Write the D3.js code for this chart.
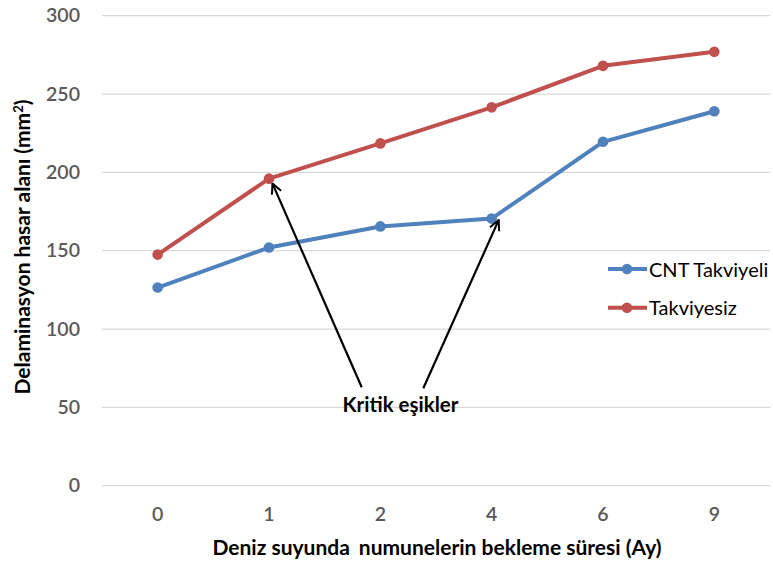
<!DOCTYPE html>
<html>
<head>
<meta charset="utf-8">
<script src="https://cdn.jsdelivr.net/npm/d3@7"></script>
<style>
  html, body { margin: 0; padding: 0; background: #fff; }
  svg { display: block; font-family: Lato, "Open Sans", sans-serif; }
</style>
</head>
<body>
<svg id="chart" width="773" height="563"></svg>
<script>
// Waiting time in sea water (months) and delamination damage area (mm²)
const months = ["0", "1", "2", "4", "6", "9"];
const cntReinforced = [126.5, 152, 165.5, 170.5, 219.5, 239];
const unreinforced = [147.5, 196, 218.5, 241.5, 268, 277];
const yTicks = [0, 50, 100, 150, 200, 250, 300];
const seriesNames = ["CNT Takviyeli", "Takviyesiz"];
const seriesColors = ["#4F81BD", "#C0504D"];

const svg = d3.select("#chart");
const plot = { left: 102, right: 770, top: 15.7, bottom: 485.7 };

const x = d3.scaleBand().domain(months).range([plot.left, plot.right]);
const y = d3.scaleLinear().domain([0, 300]).range([plot.bottom, plot.top]);
const cx = d => x(d) + x.bandwidth() / 2;

// Horizontal gridlines
svg.append("g")
  .selectAll("line")
  .data(yTicks)
  .join("line")
  .attr("x1", plot.left).attr("x2", plot.right)
  .attr("y1", d => y(d)).attr("y2", d => y(d))
  .attr("stroke", "#D9D9D9").attr("stroke-width", 1.3);

// Y axis tick labels
const yAxis = svg.append("g")
  .attr("transform", `translate(${plot.left - 22},0)`)
  .call(d3.axisLeft(y).tickValues(yTicks).tickSize(0).tickPadding(0));
yAxis.select(".domain").remove();
yAxis.selectAll("text")
  .attr("fill", "#595959").attr("font-size", 19.5).attr("font-weight", 600)
  .attr("font-family", "Lato, sans-serif");

// X axis tick labels
const xAxis = svg.append("g")
  .attr("transform", `translate(0,${plot.bottom})`)
  .call(d3.axisBottom(x).tickSize(0).tickPadding(21));
xAxis.select(".domain").remove();
xAxis.selectAll("text")
  .attr("fill", "#595959").attr("font-size", 19.5).attr("font-weight", 600)
  .attr("font-family", "Lato, sans-serif");

// Axis titles
const xTitle = svg.append("text")
  .attr("x", 437).attr("y", 555)
  .attr("text-anchor", "middle")
  .attr("font-size", 21).attr("font-weight", 700).attr("fill", "#000");
xTitle.append("tspan").text("Deniz suyunda");
xTitle.append("tspan").attr("dx", 9).text("numunelerin bekleme süresi (Ay)");

svg.append("text")
  .attr("transform", "translate(30,247) rotate(-90)")
  .attr("text-anchor", "middle")
  .attr("font-size", 21).attr("font-weight", 700).attr("fill", "#000")
  .html('Delaminasyon hasar alanı (mm<tspan dy="-7" font-size="13">2</tspan><tspan dy="7">)</tspan>');

// Series lines and markers
const series = [cntReinforced, unreinforced];
const line = d3.line().x((d, i) => cx(months[i])).y(d => y(d));

series.forEach((vals, s) => {
  svg.append("path")
    .datum(vals)
    .attr("d", line)
    .attr("fill", "none")
    .attr("stroke", seriesColors[s])
    .attr("stroke-width", 4)
    .attr("stroke-linejoin", "round")
    .attr("stroke-linecap", "round");
  svg.append("g")
    .selectAll("circle")
    .data(vals)
    .join("circle")
    .attr("cx", (d, i) => cx(months[i]))
    .attr("cy", d => y(d))
    .attr("r", 5.3)
    .attr("fill", seriesColors[s]);
});

// Legend
const legend = svg.append("g");
[269, 307.7].forEach((ly, s) => {
  legend.append("line")
    .attr("x1", 608).attr("x2", 647).attr("y1", ly).attr("y2", ly)
    .attr("stroke", seriesColors[s]).attr("stroke-width", 4);
  legend.append("circle")
    .attr("cx", 627).attr("cy", ly).attr("r", 5.3).attr("fill", seriesColors[s]);
  legend.append("text")
    .attr("x", 649).attr("y", ly + 7.5)
    .attr("font-size", 20).attr("fill", "#000")
    .text(seriesNames[s]);
});

// Annotation with arrows pointing at the critical thresholds
svg.append("defs").append("marker")
  .attr("id", "openArrow")
  .attr("viewBox", "0 0 12 12")
  .attr("refX", 11).attr("refY", 6)
  .attr("markerWidth", 12).attr("markerHeight", 12)
  .attr("markerUnits", "userSpaceOnUse")
  .attr("orient", "auto")
  .append("path")
  .attr("d", "M1,1 L11,6 L1,11")
  .attr("fill", "none").attr("stroke", "#000").attr("stroke-width", 2);

const arrows = [
  { from: [361.7, 387.3], to: [cx("1") + 3.5, y(unreinforced[1]) + 5] },
  { from: [423.3, 388.3], to: [cx("4") + 7, y(cntReinforced[3]) + 1.5] }
];
svg.append("g")
  .selectAll("line")
  .data(arrows)
  .join("line")
  .attr("x1", d => d.from[0]).attr("y1", d => d.from[1])
  .attr("x2", d => d.to[0]).attr("y2", d => d.to[1])
  .attr("stroke", "#000").attr("stroke-width", 2.2)
  .attr("marker-end", "url(#openArrow)");

svg.append("text")
  .attr("x", 400.5).attr("y", 412)
  .attr("text-anchor", "middle")
  .attr("font-size", 20.5).attr("font-weight", 700).attr("fill", "#000")
  .text("Kritik eşikler");
</script>
</body>
</html>
